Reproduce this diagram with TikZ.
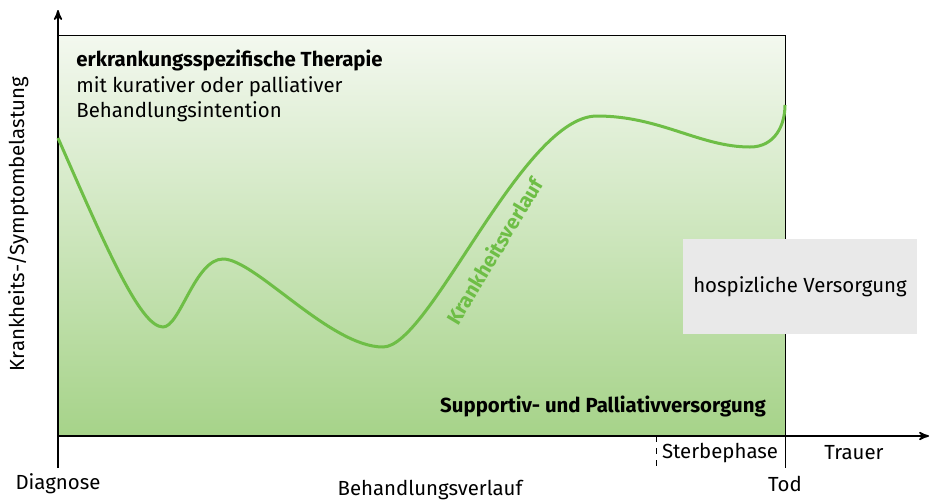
\documentclass[tikz,border=0pt]{standalone}
\usepackage{fontspec}
\setmainfont{Fira Sans}
\usetikzlibrary{calc}
\usetikzlibrary{arrows}
\usetikzlibrary{positioning}

\definecolor{kurve}{RGB}{110,190,70}
\definecolor{hell}{RGB}{243,248,239}
\definecolor{dunkel}{RGB}{166,211,137}
\definecolor{kasten}{RGB}{233,233,233}

\tikzset{
  txt/.style={inner sep=0pt, font=\fontsize{10.2}{12}\selectfont},
  fett/.style={txt, font=\bfseries\fontsize{10.2}{12}\selectfont},
  achse/.style={black, thick, ->, >=stealth'},
}

\begin{document}
\begin{tikzpicture} [x=0.5pt, y=-0.5pt]
\useasboundingbox (0,0) rectangle (930,499);
% Flaeche mit Verlauf
\shade[top color=hell, bottom color=dunkel] (58,35) rectangle (785,436);
\coordinate (ol) at (58,35);
\coordinate (or) at (785,35);
\coordinate (tod) at (785,468);
\draw[black] (ol) -- (or) -- (tod);
% Achsen
\coordinate (ursprung) at (58,468);
\coordinate (ytop) at (58,10);
\coordinate (x0) at (58,436);
\coordinate (xend) at (929,436);
\draw[achse] (ursprung) -- (ytop);
\draw[achse] (x0) -- (xend);
\coordinate (s1) at (656,436);
\coordinate (s2) at (656,468);
\draw[black, dashed] (s1) -- (s2);
% Kurve
\draw[kurve, line width=1.5pt] (58,138)
  .. controls (105,245) and (140,327) .. (163,327)
  .. controls (180,327) and (195,259) .. (223,259)
  .. controls (255,259) and (330,347) .. (383,347)
  .. controls (430,347) and (522,116) .. (597,116)
  .. controls (660,116) and (700,147) .. (750,147)
  .. controls (775,147) and (785,125) .. (785,105);
\node[fett, rotate=59, text=kurve] (verlauf) at (494,251) {Krankheitsverlauf};
% Texte
\node[fett, anchor=base west] (therapie) at (76,66) {erkrankungsspezifische Therapie};
\node[txt, anchor=base west] (kurativ) at (76,92) {mit kurativer oder palliativer};
\node[txt, anchor=base west] (intention) at (76,117) {Behandlungsintention};
\node[fett] (palliativ) at (603,406) {Supportiv- und Palliativversorgung};
\node[txt, fill=kasten, minimum width=117pt, minimum height=47.5pt] (hospiz) at (800,286.5) {hospizliche Versorgung};
\node[txt, rotate=90] (ylabel) at (18,224) {Krankheits-/Symptombelastung};
\node[txt] (diagnose) at (58,484) {Diagnose};
\node[txt] (todtext) at (785,484) {Tod};
\node[txt] (sterbe) at (720,453) {Sterbephase};
\node[txt] (trauer) at (854,453) {Trauer};
\node[txt] (xlabel) at (430,490) {Behandlungsverlauf};
\end{tikzpicture}
\end{document}
